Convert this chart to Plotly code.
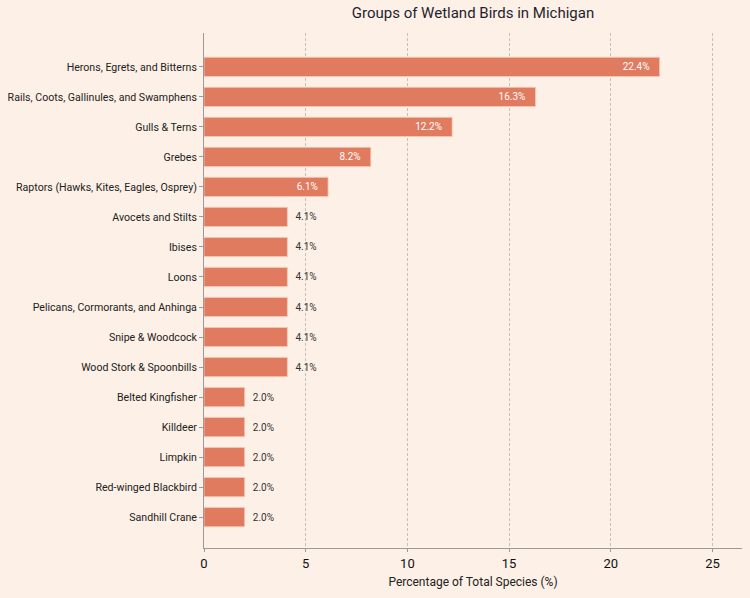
import plotly.graph_objects as go

categories = [
    "Herons, Egrets, and Bitterns",
    "Rails, Coots, Gallinules, and Swamphens",
    "Gulls & Terns",
    "Grebes",
    "Raptors (Hawks, Kites, Eagles, Osprey)",
    "Avocets and Stilts",
    "Ibises",
    "Loons",
    "Pelicans, Cormorants, and Anhinga",
    "Snipe & Woodcock",
    "Wood Stork & Spoonbills",
    "Belted Kingfisher",
    "Killdeer",
    "Limpkin",
    "Red-winged Blackbird",
    "Sandhill Crane",
]
values = [22.4, 16.3, 12.2, 8.2, 6.1, 4.1, 4.1, 4.1, 4.1, 4.1, 4.1, 2.0, 2.0, 2.0, 2.0, 2.0]
x_ticks = [0, 5, 10, 15, 20, 25]

BAR = "#E07B5F"
BG = "#FDF0E6"
FONT = "Roboto"

inside = [v >= 6 for v in values]
labels = [f"{v:.1f}%\u2002\u2009" if i else f"\u2002{v:.1f}%" for v, i in zip(values, inside)]

fig = go.Figure()
fig.add_trace(go.Bar(
    y=categories, x=values, orientation="h",
    marker=dict(color=BAR, line=dict(color="#F7C9B8", width=0.8)),
    width=0.64,
    text=labels,
    textposition=["inside" if i else "outside" for i in inside],
    insidetextanchor="end",
    textfont=dict(family=FONT, size=10,
                  color=["white" if i else "#333333" for i in inside]),
    cliponaxis=False,
    hoverinfo="skip",
))

fig.update_layout(
    width=750, height=598,
    paper_bgcolor=BG, plot_bgcolor=BG,
    margin=dict(l=204, r=8, t=33, b=50),
    showlegend=False,
    font=dict(family=FONT, color="#222222"),
    title=dict(text="Groups of Wetland Birds in Michigan", x=473 / 750, xref="container",
               xanchor="center",
               y=1 - 13 / 598, yref="container", yanchor="middle",
               font=dict(family=FONT, size=15, color="#1f1f2e")),
    uniformtext=dict(minsize=8, mode="show"),
)
fig.update_xaxes(
    range=[0, 26.45], tickvals=x_ticks, ticktext=[str(t) for t in x_ticks],
    showgrid=True, gridcolor="#c4c0bc", griddash="3px,2px", gridwidth=1,
    showline=True, linecolor="#9a9a9a", linewidth=1,
    ticks="outside", ticklen=3, tickcolor="#9a9a9a",
    tickfont=dict(family=FONT, size=13, color="#111111"),
    title=dict(text="Percentage of Total Species (%)", standoff=8,
               font=dict(family=FONT, size=12, color="#222222")),
    zeroline=False, fixedrange=True, automargin=False,
)
fig.update_yaxes(
    categoryorder="array", categoryarray=categories, autorange=False,
    range=[15 + 1.03, -1.13],
    showline=True, linecolor="#9a9a9a", linewidth=1,
    ticks="outside", ticklen=4, tickcolor="#9a9a9a",
    tickfont=dict(family=FONT, size=10.6, color="#222222"),
    showgrid=False, zeroline=False, automargin=False, fixedrange=True,
)

fig.write_html(
    "out.html",
    config={"displayModeBar": False},
    post_script="document.body.style.margin='0';document.body.style.background='" + BG + "';",
)
